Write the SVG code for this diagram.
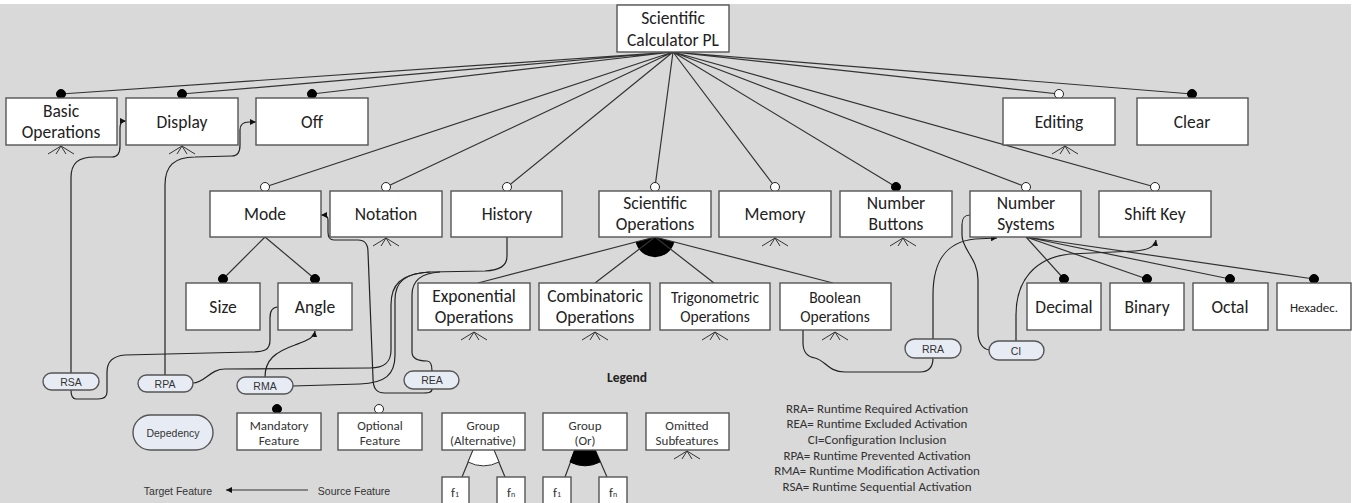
<svg xmlns="http://www.w3.org/2000/svg" width="1356" height="503" viewBox="0 0 1356 503">
<defs>
<style>
.bg{fill:#d9d9d9}
.box{fill:#fff;stroke:#555;stroke-width:1.4}
.pill{fill:#e7ebf3;stroke:#555;stroke-width:1.4}
.ln{fill:none;stroke:#333;stroke-width:1.2}
.dep{fill:none;stroke:#222;stroke-width:1.2}
.man{fill:#000;stroke:#000;stroke-width:1}
.opt{fill:#fff;stroke:#222;stroke-width:1}
.om{fill:none;stroke:#333;stroke-width:1}
.t{font-family:Carlito,Lato,"Liberation Sans",sans-serif;font-size:17.5px;fill:#222;text-anchor:middle;dominant-baseline:central}
.ts{font-family:Carlito,Lato,"Liberation Sans",sans-serif;font-size:15.5px;fill:#222;text-anchor:middle;dominant-baseline:central}
.tx{font-family:Carlito,Lato,"Liberation Sans",sans-serif;font-size:13px;fill:#222;text-anchor:middle;dominant-baseline:central}
.tl{font-family:Carlito,Lato,"Liberation Sans",sans-serif;font-size:13px;fill:#333;text-anchor:middle;dominant-baseline:central}
.tp{font-family:"Liberation Sans",Arial,sans-serif;font-size:10.5px;fill:#333;text-anchor:middle;dominant-baseline:central}
</style>
<marker id="arr" markerWidth="6" markerHeight="6" refX="6" refY="3" orient="auto" markerUnits="userSpaceOnUse"><path d="M0,0 L6,3 L0,6 z" fill="#111"/></marker>
<g id="omit"><path class="om" d="M0,0 L-13,8 M0,0 L-5,8 M0,0 L5,8 M0,0 L13,8"/></g>
</defs>
<rect class="bg" x="0" y="4" width="1351" height="499"/>

<g id="connectors">
<path class="ln" d="M673,52 L61,94 M673,52 L182,94 M673,52 L312,94 M673,52 L1059,94 M673,52 L1192,94"/>
<path class="ln" d="M673,52 L265,187 M673,52 L386,187 M673,52 L507,187 M673,52 L655,187 M673,52 L775,187 M673,52 L896,187 M673,52 L1026,187 M673,52 L1155,187"/>
<path class="ln" d="M265,237 L223,279 M265,237 L315,279"/>
<path d="M655,237 L635.6,242 A20,20 0 0,0 674.4,242 Z" fill="#000"/>
<path class="ln" d="M655,237 L478,283 M655,237 L595,283 M655,237 L714,283 M655,237 L833,283"/>
<path class="ln" d="M1026,237 L1064,279 M1026,237 L1147,279 M1026,237 L1230,279 M1026,237 L1314,279"/>
<path class="dep" marker-end="url(#arr)" d="M71,373 L71,178 C71,163 78,157 95,157 L112,157 C118,157 120,153 120,146 L120,128 C120,123 122,121 126,121"/>
<path class="dep" d="M278,307 C272,307 270,311 270,318 L270,340 C270,350 265,352 250,352 L125,355 C112,356 107,362 107,372 L107,392 C107,397 104,399 98,399 L76,399 C72,399 71,396 71,390"/>
<path class="dep" marker-end="url(#arr)" d="M165,375 L165,185 C165,166 174,157 195,157 L232,156 C238,156 240,152 240,145 L240,130 C240,124 243,122 249,122 L256,122"/>
<path class="dep" d="M507,237 L507,256 C507,266 500,270 485,271 L430,272 C405,273 395,282 395,300 L395,355 C395,375 385,383 360,384 L293,386"/>
<path class="dep" d="M430,272 C400,274 391,285 391,305 L391,350 C391,362 385,368 370,368 L225,369 C210,369 205,383 193,383"/>
<path class="dep" d="M440,272 C420,273 412,282 412,295 L412,352 C412,360 420,361 427,361 C431,361 432,365 432,371"/>
<path class="dep" marker-end="url(#arr)" d="M432,389 C432,393 428,393 420,393 L385,393 C376,393 373,388 373,378 L368,252 C368,244 365,240 358,240 L334,240 C330,240 328,237 328,232 L328,220 C328,216 326,215 321,215"/>
<path class="dep" marker-end="url(#arr)" d="M265,377 C265,360 275,352 295,345 C308,340 314,338 315,331"/>
<path class="dep" d="M803,330 L803,343 C803,352 808,357 815,358 C825,360 828,372 845,372 L920,372 C930,372 933,366 933,358"/>
<path class="dep" marker-end="url(#arr)" d="M933,339 L933,295 C933,262 945,242 975,239 L997,238"/>
<path class="dep" d="M970,215 C964,215 962,218 962,225 L962,235 C962,250 978,258 978,280 L978,332 C978,343 983,349 989,350"/>
<path class="dep" marker-end="url(#arr)" d="M1016,341 L1016,315 C1016,280 1035,258 1070,254 L1135,251 C1150,250 1155,246 1156,240"/>
</g>

<g id="root"><rect class="box" x="617" y="5" width="112" height="47"/><text class="t" x="673" y="18">Scientific</text><text class="t" x="673" y="40">Calculator PL</text></g>

<g id="basic-operations"><circle class="man" cx="61" cy="94" r="4.5"/><rect class="box" x="6" y="98" width="111" height="47"/><text class="t" x="61" y="111">Basic</text><text class="t" x="61" y="132">Operations</text><use href="#omit" x="61" y="146"/></g>
<g id="display"><circle class="man" cx="182" cy="94" r="4.5"/><rect class="box" x="126" y="98" width="112" height="47"/><text class="t" x="182" y="122">Display</text><use href="#omit" x="182" y="146"/></g>
<g id="off"><circle class="man" cx="312" cy="94" r="4.5"/><rect class="box" x="256" y="98" width="112" height="47"/><text class="t" x="312" y="122">Off</text></g>
<g id="editing"><circle class="opt" cx="1059" cy="94" r="4.5"/><rect class="box" x="1003" y="98" width="112" height="47"/><text class="t" x="1059" y="122">Editing</text><use href="#omit" x="1065" y="146"/></g>
<g id="clear"><circle class="man" cx="1192" cy="94" r="4.5"/><rect class="box" x="1137" y="98" width="111" height="47"/><text class="t" x="1192" y="122">Clear</text></g>

<g id="mode"><circle class="opt" cx="265" cy="187" r="4.5"/><rect class="box" x="210" y="191" width="111" height="46"/><text class="t" x="265" y="214">Mode</text></g>
<g id="notation"><circle class="opt" cx="386" cy="187" r="4.5"/><rect class="box" x="330" y="191" width="112" height="46"/><text class="t" x="386" y="214">Notation</text><use href="#omit" x="386" y="238"/></g>
<g id="history"><circle class="opt" cx="507" cy="187" r="4.5"/><rect class="box" x="451" y="191" width="111" height="46"/><text class="t" x="507" y="214">History</text></g>
<g id="scientific-operations"><circle class="opt" cx="655" cy="187" r="4.5"/><rect class="box" x="599" y="191" width="112" height="46"/><text class="t" x="655" y="203">Scientific</text><text class="t" x="655" y="224">Operations</text></g>
<g id="memory"><circle class="opt" cx="775" cy="187" r="4.5"/><rect class="box" x="719" y="191" width="112" height="46"/><text class="t" x="775" y="214">Memory</text><use href="#omit" x="775" y="238"/></g>
<g id="number-buttons"><circle class="man" cx="896" cy="187" r="4.5"/><rect class="box" x="840" y="191" width="112" height="46"/><text class="t" x="896" y="203">Number</text><text class="t" x="896" y="224">Buttons</text><use href="#omit" x="903" y="238"/></g>
<g id="number-systems"><circle class="opt" cx="1026" cy="187" r="4.5"/><rect class="box" x="970" y="191" width="111" height="46"/><text class="t" x="1026" y="203">Number</text><text class="t" x="1026" y="224">Systems</text></g>
<g id="shift-key"><circle class="opt" cx="1155" cy="187" r="4.5"/><rect class="box" x="1099" y="191" width="112" height="46"/><text class="t" x="1155" y="214">Shift Key</text></g>

<g id="size"><circle class="man" cx="223" cy="279" r="4.5"/><rect class="box" x="186" y="283" width="74" height="47"/><text class="t" x="223" y="307">Size</text></g>
<g id="angle"><circle class="man" cx="315" cy="279" r="4.5"/><rect class="box" x="278" y="283" width="74" height="47"/><text class="t" x="315" y="307">Angle</text></g>
<g id="exponential-operations"><rect class="box" x="418" y="283" width="112" height="47"/><text class="t" x="474" y="296">Exponential</text><text class="t" x="474" y="317">Operations</text><use href="#omit" x="474" y="332"/></g>
<g id="combinatoric-operations"><rect class="box" x="539" y="283" width="111" height="47"/><text class="t" x="595" y="296">Combinatoric</text><text class="t" x="595" y="317">Operations</text><use href="#omit" x="595" y="332"/></g>
<g id="trigonometric-operations"><rect class="box" x="660" y="283" width="110" height="47"/><text class="ts" x="715" y="297">Trigonometric</text><text class="ts" x="715" y="316">Operations</text><use href="#omit" x="715" y="332"/></g>
<g id="boolean-operations"><rect class="box" x="780" y="283" width="111" height="47"/><text class="ts" x="835" y="297">Boolean</text><text class="ts" x="835" y="316">Operations</text><use href="#omit" x="835" y="332"/></g>
<g id="decimal"><circle class="man" cx="1064" cy="279" r="4.5"/><rect class="box" x="1027" y="283" width="74" height="47"/><text class="t" x="1064" y="307">Decimal</text></g>
<g id="binary"><circle class="man" cx="1147" cy="279" r="4.5"/><rect class="box" x="1110" y="283" width="74" height="47"/><text class="t" x="1147" y="307">Binary</text></g>
<g id="octal"><circle class="man" cx="1230" cy="279" r="4.5"/><rect class="box" x="1193" y="283" width="75" height="47"/><text class="t" x="1230" y="307">Octal</text></g>
<g id="hexadec"><circle class="man" cx="1314" cy="279" r="4.5"/><rect class="box" x="1277" y="283" width="74" height="47"/><text class="tx" x="1314" y="307">Hexadec.</text></g>

<g id="rsa"><rect class="pill" x="43" y="373" width="56" height="17" rx="8.5"/><text class="tp" x="71" y="381.5">RSA</text></g>
<g id="rpa"><rect class="pill" x="138" y="375" width="55" height="17" rx="8.5"/><text class="tp" x="165" y="383.5">RPA</text></g>
<g id="rma"><rect class="pill" x="237" y="377" width="56" height="17" rx="8.5"/><text class="tp" x="265" y="385.5">RMA</text></g>
<g id="rea"><rect class="pill" x="404" y="371" width="55" height="18" rx="9"/><text class="tp" x="432" y="380">REA</text></g>
<g id="rra"><rect class="pill" x="905" y="339" width="56" height="19" rx="9.5"/><text class="tp" x="933" y="348.5">RRA</text></g>
<g id="ci"><rect class="pill" x="989" y="341" width="55" height="19" rx="9.5"/><text class="tp" x="1016" y="350.5">CI</text></g>

<g id="legend">
<text x="627" y="377" font-family="Carlito,Lato,'Liberation Sans',sans-serif" font-size="13.5" font-weight="bold" fill="#222" text-anchor="middle" dominant-baseline="central">Legend</text>
<rect class="pill" x="133" y="415" width="80" height="35" rx="17.5"/><text class="tp" x="173" y="432.5">Depedency</text>
<circle class="man" cx="277" cy="409" r="4.5"/><rect class="box" x="237" y="413" width="84" height="37"/><text class="tl" x="279" y="425">Mandatory</text><text class="tl" x="279" y="440">Feature</text>
<circle class="opt" cx="379" cy="409" r="4.5"/><rect class="box" x="338" y="413" width="84" height="37"/><text class="tl" x="380" y="425">Optional</text><text class="tl" x="380" y="440">Feature</text>
<path d="M481,431 L462,477 M486,431 L505,477" class="ln"/>
<path d="M481,431 L468,462 A33,33 0 0,0 499,462 L486,431 Z" fill="#fff" stroke="#333" stroke-width="1"/>
<rect class="box" x="442" y="413" width="83" height="37"/><text class="tl" x="483" y="425">Group</text><text class="tl" x="483" y="440">(Alternative)</text>
<rect class="box" x="442" y="477" width="27" height="30"/><text class="tl" x="455" y="492">f<tspan font-size="8" dy="2">1</tspan></text>
<rect class="box" x="497" y="477" width="28" height="30"/><text class="tl" x="511" y="492">f<tspan font-size="8" dy="2">n</tspan></text>
<path d="M582,431 L565,477 M587,431 L607,477" class="ln"/>
<path d="M582,431 L570,462 A33,33 0 0,0 600,462 L587,431 Z" fill="#000" stroke="#000" stroke-width="1"/>
<rect class="box" x="543" y="413" width="84" height="37"/><text class="tl" x="585" y="425">Group</text><text class="tl" x="585" y="440">(Or)</text>
<rect class="box" x="543" y="477" width="28" height="30"/><text class="tl" x="557" y="492">f<tspan font-size="8" dy="2">1</tspan></text>
<rect class="box" x="599" y="477" width="28" height="30"/><text class="tl" x="613" y="492">f<tspan font-size="8" dy="2">n</tspan></text>
<rect class="box" x="646" y="413" width="83" height="37"/><text class="tl" x="687" y="425">Omitted</text><text class="tl" x="687" y="440">Subfeatures</text>
<use href="#omit" x="687" y="451"/>
<text class="tp" x="178" y="491">Target Feature</text>
<path class="ln" marker-end="url(#arr)" d="M308,490 L226,490" stroke-width="1"/>
<text class="tp" x="354" y="491">Source Feature</text>
<text class="tl" x="877" y="408">RRA= Runtime Required Activation</text>
<text class="tl" x="877" y="423">REA= Runtime Excluded Activation</text>
<text class="tl" x="877" y="439">CI=Configuration Inclusion</text>
<text class="tl" x="877" y="455">RPA= Runtime Prevented Activation</text>
<text class="tl" x="877" y="470">RMA= Runtime Modification Activation</text>
<text class="tl" x="877" y="486">RSA= Runtime Sequential Activation</text>
</g>
</svg>
